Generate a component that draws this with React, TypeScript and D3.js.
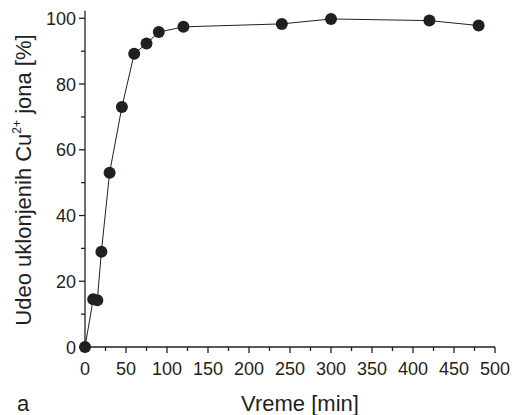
import React from "react";
import * as d3 from "d3";

const times = [0, 10, 15, 20, 30, 45, 60, 75, 90, 120, 240, 300, 420, 480];
const removal = [0, 14.5, 14.2, 29, 53, 73, 89.2, 92.3, 95.8, 97.4, 98.3, 99.8, 99.3, 97.8];
const xTicks = [0, 50, 100, 150, 200, 250, 300, 350, 400, 450, 500];
const xMinor = [25, 75, 125, 175, 225, 275, 325, 375, 425, 475];
const yTicks = [0, 20, 40, 60, 80, 100];
const yMinor = [10, 30, 50, 70, 90];

const W = 512, H = 415;
const font = "'Liberation Sans', Arial, Helvetica, sans-serif";

export default function App() {
  const x = d3.scaleLinear().domain([0, 500]).range([85, 495]);
  const y = d3.scaleLinear().domain([0, 100]).range([347, 18.3]);
  const line = d3.line<number>().x((_, i) => x(times[i])).y((d) => y(d));
  const top = y(102.3);
  return (
    <svg width={W} height={H} style={{ position: "absolute", left: 0, top: 0, background: "#fff" }} fontFamily={font}>
      <rect width={W} height={H} fill="#fff" />
      <path d={line(removal) || ""} fill="none" stroke="#231f20" strokeWidth={1} />
      {removal.map((v, i) => (
        <circle key={i} cx={x(times[i])} cy={y(v)} r={6} fill="#231f20" />
      ))}
      {/* axes */}
      <line x1={x(0)} x2={x(0)} y1={top} y2={y(0)} stroke="#231f20" strokeWidth={1.3} />
      <line x1={x(0)} x2={x(500)} y1={y(0)} y2={y(0)} stroke="#231f20" strokeWidth={1.3} />
      {xTicks.map((t) => (
        <g key={"x" + t}>
          <line x1={x(t)} x2={x(t)} y1={y(0)} y2={y(0) + 6} stroke="#231f20" strokeWidth={1.3} />
          <text x={x(t)} y={375} textAnchor="middle" fontSize={18} fill="#231f20">{t}</text>
        </g>
      ))}
      {xMinor.map((t) => (
        <line key={"xm" + t} x1={x(t)} x2={x(t)} y1={y(0)} y2={y(0) + 4} stroke="#231f20" strokeWidth={1.3} />
      ))}
      {yTicks.map((t) => (
        <g key={"y" + t}>
          <line x1={x(0) - 6} x2={x(0)} y1={y(t)} y2={y(t)} stroke="#231f20" strokeWidth={1.3} />
          <text x={76} y={y(t) + 6.5} textAnchor="end" fontSize={18} fill="#231f20">{t}</text>
        </g>
      ))}
      {yMinor.map((t) => (
        <line key={"ym" + t} x1={x(0) - 4} x2={x(0)} y1={y(t)} y2={y(t)} stroke="#231f20" strokeWidth={1.3} />
      ))}
      <text x={300} y={411} textAnchor="middle" fontSize={22} fill="#231f20">Vreme [min]</text>
      <text x={17} y={411} fontSize={22} fill="#231f20">a</text>
      <text transform={`translate(31,180) rotate(-90)`} textAnchor="middle" fontSize={22} fill="#231f20">
        Udeo uklonjenih Cu
        <tspan fontSize={12} dy={-10}>2+</tspan>
        <tspan dy={10}> jona [%]</tspan>
      </text>
    </svg>
  );
}
